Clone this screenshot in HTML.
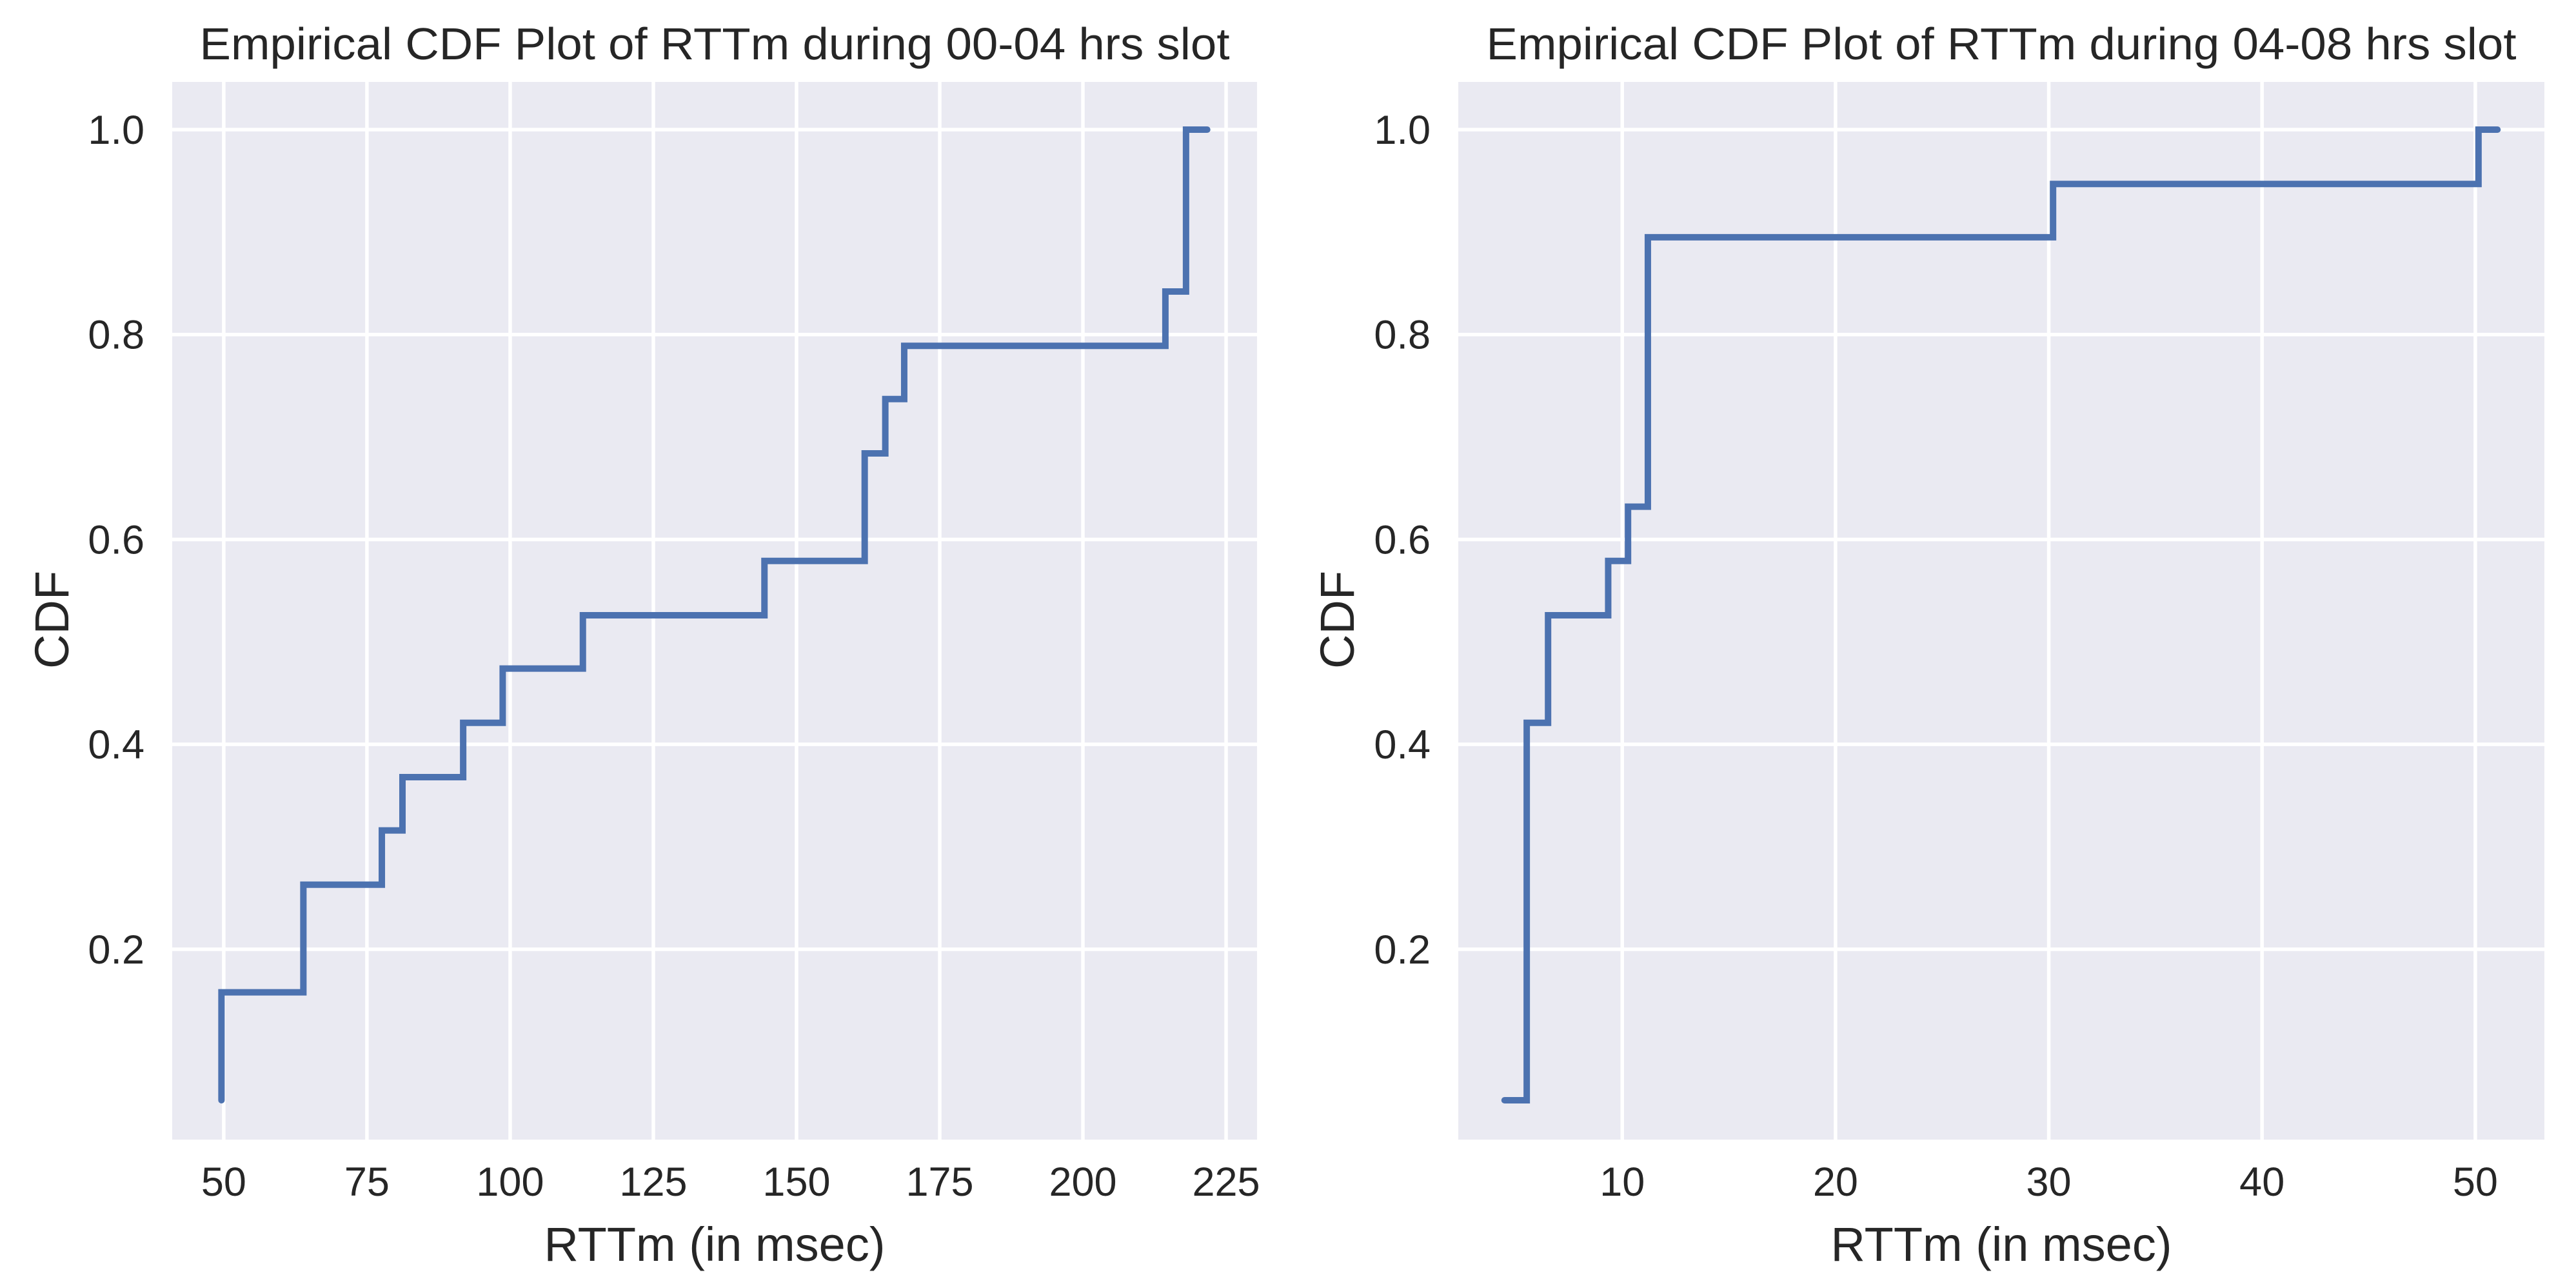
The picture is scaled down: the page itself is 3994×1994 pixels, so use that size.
<!DOCTYPE html>
<html><head><meta charset="utf-8"><style>
html,body{margin:0;padding:0;background:#fff;}
svg{display:block;}
text{font-family:"Liberation Sans",Arial,sans-serif;fill:#262626;}
</style></head><body>
<svg id="chart" width="3994" height="1994" viewBox="0 0 3994 1994" xmlns="http://www.w3.org/2000/svg"></svg>
<script>
// Left panel data (00-04 hrs)
const leftX = [49.6, 49.6, 63.9, 77.6, 81.2, 91.8, 98.7, 112.7, 144.4, 161.9, 165.5, 168.8, 214.4, 218.0, 221.7];
const leftY = [0.0526, 0.158, 0.263, 0.316, 0.368, 0.421, 0.474, 0.526, 0.579, 0.684, 0.737, 0.789, 0.842, 1.0, 1.0];
const leftXTicks = [50, 75, 100, 125, 150, 175, 200, 225];
// Right panel data (04-08 hrs)
const rightX = [4.48, 5.52, 6.52, 9.34, 10.27, 11.2, 30.2, 50.15, 51.04];
const rightY = [0.0526, 0.421, 0.526, 0.579, 0.632, 0.895, 0.947, 1.0, 1.0];
const rightXTicks = [10, 20, 30, 40, 50];
const yTicks = [0.2, 0.4, 0.6, 0.8, 1.0];
const yTickLabels = ["0.2", "0.4", "0.6", "0.8", "1.0"];

const NS = "http://www.w3.org/2000/svg";
const svg = document.getElementById("chart");
function mk(tag, attrs, parent) {
  const e = document.createElementNS(NS, tag);
  for (const k in attrs) e.setAttribute(k, attrs[k]);
  (parent || svg).appendChild(e);
  return e;
}

function panel(cfg) {
  const g = mk("g", {});
  
  
  const L = cfg.left, R = cfg.right, T = 127, B = 1767;
  const yMin = 0.0142, yMax = 1.0466;
  const sx = v => L + (v - cfg.xMin) / (cfg.xMax - cfg.xMin) * (R - L);
  const sy = v => B - (v - yMin) / (yMax - yMin) * (B - T);
  const bg = mk("rect", {x: L, y: T, width: R - L, height: B - T, fill: "#eaeaf2"}, g);
  
  
  cfg.xTicks.forEach(t => {
    const l = mk("line", {x1: sx(t), x2: sx(t), y1: T, y2: B, stroke: "#fff", "stroke-width": 5.5}, g);
    
    
    const tx = mk("text", {x: sx(t), y: 1854, "font-size": 63, "text-anchor": "middle"}, g);
    tx.textContent = String(t);
    
    
  });
  yTicks.forEach((t, i) => {
    const l = mk("line", {x1: L, x2: R, y1: sy(t), y2: sy(t), stroke: "#fff", "stroke-width": 5.5}, g);
    
    
    const tx = mk("text", {x: L - 43, y: sy(t) + 22, "font-size": 63, "text-anchor": "end"}, g);
    tx.textContent = yTickLabels[i];
    
    
  });
  let d = "M" + sx(cfg.xs[0]) + "," + sy(cfg.ys[0]);
  for (let i = 1; i < cfg.xs.length; i++) {
    d += " H" + sx(cfg.xs[i]) + " V" + sy(cfg.ys[i]);
  }
  const p = mk("path", {d: d, fill: "none", stroke: "#4c72b0", "stroke-width": 10, "stroke-linecap": "round", "stroke-linejoin": "miter"}, g);
  
  
  const title = mk("text", {x: (L + R) / 2, y: 92, "font-size": 70, "text-anchor": "middle", textLength: 1597, lengthAdjust: "spacingAndGlyphs"}, g);
  title.textContent = cfg.title;
  
  
  const xl = mk("text", {x: (L + R) / 2, y: 1955, "font-size": 74, "text-anchor": "middle"}, g);
  xl.textContent = "RTTm (in msec)";
  
  
  const yl = mk("text", {x: cfg.ylx, y: 961, "font-size": 74, "text-anchor": "middle", transform: "rotate(-90 " + cfg.ylx + " 961)"}, g);
  yl.textContent = "CDF";
  
  
}

panel({name: "panel-00-04", left: 267, right: 1949, xMin: 41.0, xMax: 230.4, xTicks: leftXTicks,
  xs: leftX, ys: leftY, title: "Empirical CDF Plot of RTTm during 00-04 hrs slot", ylx: 106});
panel({name: "panel-04-08", left: 2261, right: 3945, xMin: 2.31, xMax: 53.24, xTicks: rightXTicks,
  xs: rightX, ys: rightY, title: "Empirical CDF Plot of RTTm during 04-08 hrs slot", ylx: 2099});
</script>
</body></html>
